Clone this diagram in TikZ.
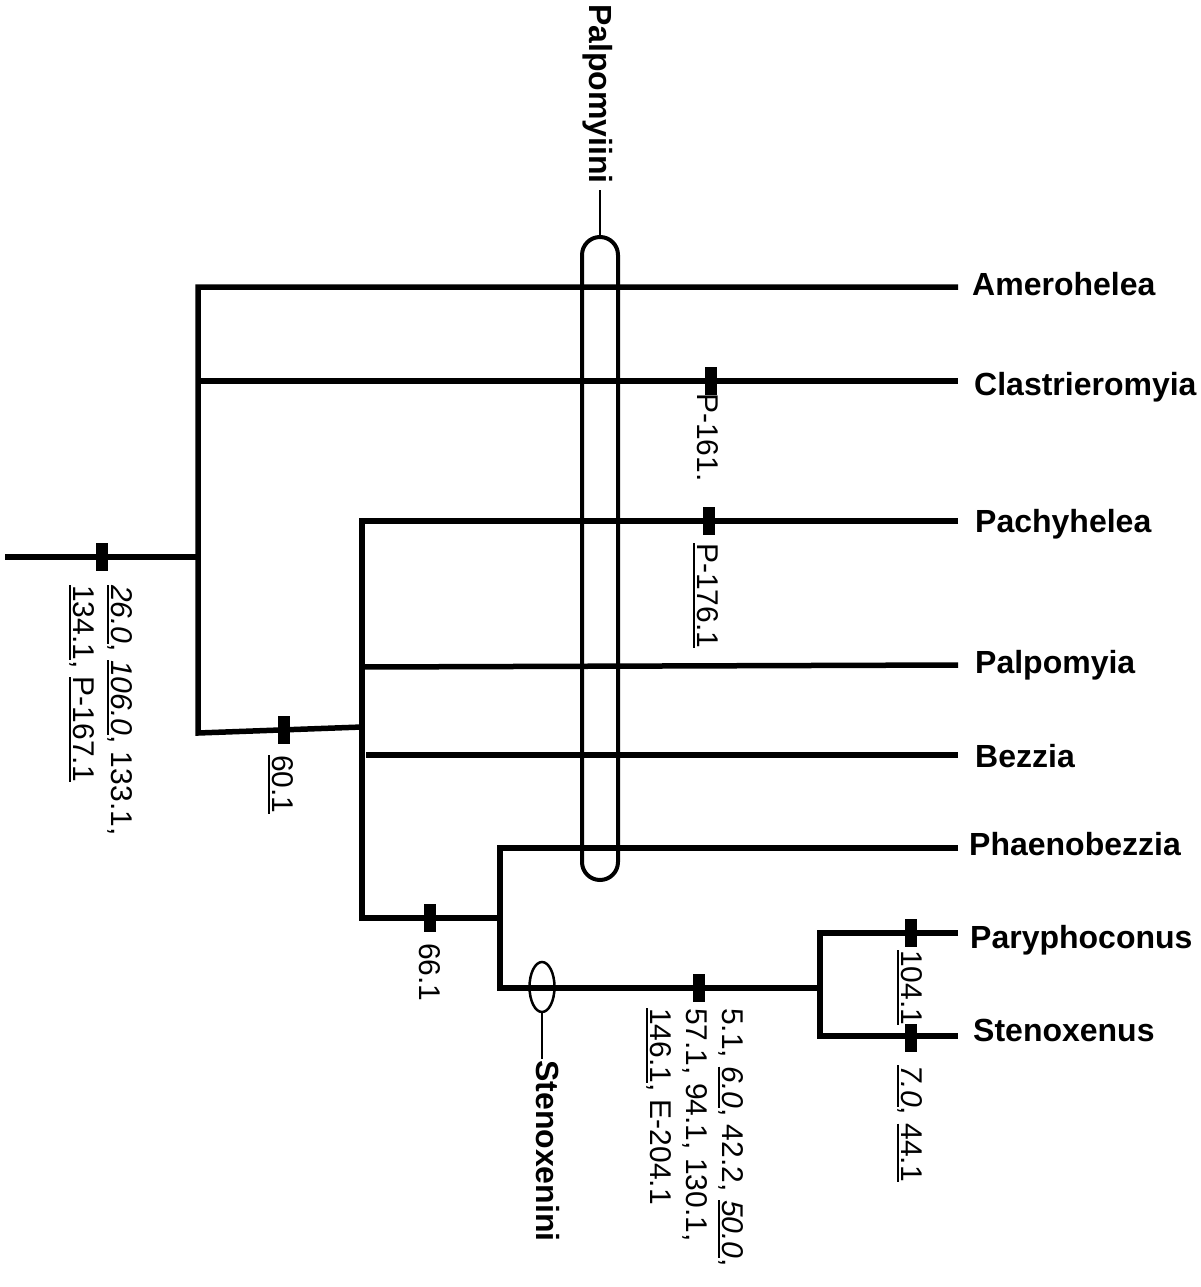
\documentclass[tikz,border=0pt]{standalone}
\usepackage{fontspec}
\setmainfont{Liberation Sans}
\usetikzlibrary{shapes.geometric}
\newsavebox\ulbox
\newcommand\ulx[1]{\sbox\ulbox{#1}\rlap{\rule[-5pt]{\wd\ulbox}{2pt}}\usebox\ulbox}
\begin{document}
\begin{tikzpicture}[x=1pt,y=-1pt,
  br/.style={line width=5.5pt},
  synap/.style={fill=black, draw=none, minimum width=12pt, minimum height=28pt, inner sep=0pt},
  lab/.style={rotate=-90, inner sep=0pt, align=left, anchor=north west, font=\fontsize{30}{38}\selectfont},
  taxon/.style={anchor=base west, inner sep=0pt, font=\fontsize{32}{38}\selectfont\bfseries},
  grp/.style={rotate=-90, inner sep=0pt, anchor=west, font=\fontsize{32}{38}\selectfont\bfseries}]
\useasboundingbox (0,0) rectangle (1201,1287);
% junction and tip coordinates
\coordinate (r0) at (5,557);   \coordinate (r1) at (198,557);
\coordinate (a0) at (198,287); \coordinate (a1) at (958,287);
\coordinate (c0) at (198,381); \coordinate (c1) at (958,381);
\coordinate (b0) at (198,733); \coordinate (d0) at (362,727);
\coordinate (p0) at (362,521); \coordinate (p1) at (958,521);
\coordinate (pa0) at (362,667); \coordinate (pa1) at (958,665);
\coordinate (bz0) at (366,755); \coordinate (bz1) at (958,755);
\coordinate (e0) at (362,918); \coordinate (e1) at (500,918);
\coordinate (ph0) at (500,848); \coordinate (ph1) at (958,848);
\coordinate (s0) at (500,988); \coordinate (s1) at (820,988);
\coordinate (py0) at (820,933); \coordinate (py1) at (958,933);
\coordinate (st0) at (820,1036); \coordinate (st1) at (958,1036);
% branches
\draw[br] (r0) -- (r1);
\draw[br] (a1) -- (a0) -- (b0) -- (d0);
\draw[br] (c0) -- (c1);
\draw[br] (p1) -- (p0) -- (e0) -- (e1);
\draw[br] (pa0) -- (pa1);
\draw[br] (bz0) -- (bz1);
\draw[br] (ph1) -- (ph0) -- (s0) -- (s1);
\draw[br] (py1) -- (py0) -- (st0) -- (st1);
% taxa
\node[taxon] (tA) at (972,295) {Amerohelea};
\node[taxon] (tC) at (974,395) {Clastrieromyia};
\node[taxon] (tP) at (975,532) {Pachyhelea};
\node[taxon] (tPa) at (975,673) {Palpomyia};
\node[taxon] (tB) at (975,767) {Bezzia};
\node[taxon] (tPh) at (969,855) {Phaenobezzia};
\node[taxon] (tPy) at (970,948) {Paryphoconus};
\node[taxon] (tS) at (973,1041) {Stenoxenus};
% synapomorphy marks
\node[synap] (m0) at (102,557) {};
\node[synap] (m1) at (711,381) {};
\node[synap] (m2) at (709,521) {};
\node[synap] (m3) at (284,730) {};
\node[synap] (m4) at (430,918) {};
\node[synap] (m5) at (699,988) {};
\node[synap] (m6) at (911,933) {};
\node[synap] (m7) at (911,1038) {};
% character labels
\node[lab] (l0) at (133,585) {\ulx{\itshape 26.0}, \ulx{\itshape 106.0}, 133.1,\\\ulx{134.1}, \ulx{P-167.1}};
\node[lab] (l1) at (719,393) {P-161.};
\node[lab] (l2) at (719,543) {\ulx{P-176.1}};
\node[lab] (l3) at (294,755) {\ulx{60.1}};
\node[lab] (l4) at (441,943) {66.1};
\node[lab, font=\fontsize{30}{36}\selectfont] (l5) at (744,1008) {5.1, \ulx{\itshape 6.0}, 42.2, \ulx{\itshape 50.0},\\57.1, 94.1, 130.1,\\\ulx{146.1}, E-204.1};
\node[lab] (l6) at (923,950) {\ulx{104.1}};
\node[lab] (l7) at (923,1065) {\ulx{\itshape 7.0}, \ulx{44.1}};
% groups
\node[draw, line width=4pt, rounded corners=18pt, minimum width=36pt, minimum height=643pt, inner sep=0pt] (palp) at (600,558.5) {};
\node[grp] (palpL) at (598,4) {Palpomyiini};
\draw[line width=2.5pt] (palp.north) -- ++(0,-45);
\node[draw, ellipse, line width=2.5pt, minimum width=25pt, minimum height=50pt, inner sep=0pt] (stx) at (542,987) {};
\node[grp] (stxL) at (548,1060) {Stenoxenini};
\draw[line width=2.5pt] (stx.south) -- ++(0,46);
\end{tikzpicture}
\end{document}
